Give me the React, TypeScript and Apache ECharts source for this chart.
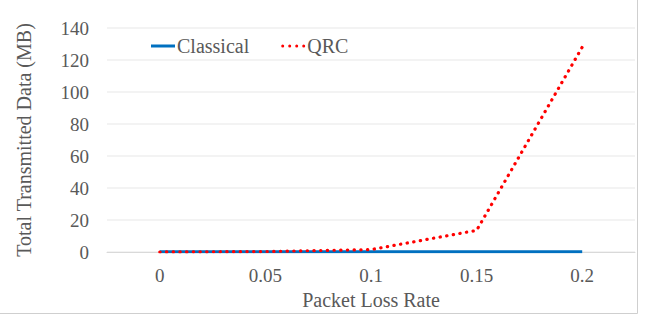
import React, { useEffect, useRef } from "react";
import * as echarts from "echarts";

const categories = ["0", "0.05", "0.1", "0.15", "0.2"];
const classical = [0.1, 0.1, 0.1, 0.1, 0.1];
const qrc = [0, 0.3, 1.5, 13.5, 128];
const yMin = 0;
const yMax = 140;
const yInterval = 20;

const FONT = "Liberation Serif";
const TXT = "#595959";

const dotsIcon =
  "path://M0,1.5a1.5,1.5 0 1,0 3,0a1.5,1.5 0 1,0 -3,0Z" +
  "M7,1.5a1.5,1.5 0 1,0 3,0a1.5,1.5 0 1,0 -3,0Z" +
  "M14,1.5a1.5,1.5 0 1,0 3,0a1.5,1.5 0 1,0 -3,0Z" +
  "M21,1.5a1.5,1.5 0 1,0 3,0a1.5,1.5 0 1,0 -3,0Z";

export default function App() {
  const ref = useRef<HTMLDivElement>(null);
  useEffect(() => {
    if (!ref.current) return;
    const chart = echarts.init(ref.current, undefined, { renderer: "svg" });
    chart.setOption({
      animation: false,
      backgroundColor: "#ffffff",
      grid: { left: 107, right: 22, top: 28, bottom: 64, containLabel: false, outerBoundsMode: "none" },
      legend: {
        left: 146,
        top: 31,
        itemWidth: 24,
        itemHeight: 3,
        itemGap: 32,
        textStyle: { fontFamily: FONT, fontSize: 20, color: TXT, padding: [0, 0, 0, -3] },
        data: [
          { name: "Classical", icon: "rect" },
          { name: "QRC", icon: dotsIcon },
        ],
      },
      xAxis: {
        type: "category",
        data: categories,
        boundaryGap: true,
        name: "Packet Loss Rate",
        nameLocation: "middle",
        nameGap: 38,
        nameTextStyle: { fontFamily: FONT, fontSize: 20, color: TXT },
        axisLine: { show: true, lineStyle: { color: "#d9d9d9", width: 1 } },
        axisTick: { show: false },
        axisLabel: { fontFamily: FONT, fontSize: 19, color: TXT, margin: 14 },
      },
      yAxis: {
        type: "value",
        min: yMin,
        max: yMax,
        interval: yInterval,
        name: "Total Transmitted Data (MB)",
        nameLocation: "middle",
        nameGap: 73,
        nameTextStyle: { fontFamily: FONT, fontSize: 20, color: TXT },
        axisLine: { show: false },
        axisTick: { show: false },
        axisLabel: { fontFamily: FONT, fontSize: 19, color: TXT, margin: 18 },
        splitLine: { lineStyle: { color: "#efefef", width: 1.5 } },
      },
      series: [
        {
          name: "Classical",
          type: "line",
          data: classical,
          symbol: "none",
          color: "#0070C0",
          lineStyle: { color: "#0070C0", width: 3 },
          z: 2,
        },
        {
          name: "QRC",
          type: "line",
          data: qrc,
          symbol: "none",
          color: "#FF0000",
          lineStyle: { color: "#FF0000", width: 3.2, type: [0.3, 6.4], cap: "round" },
          z: 3,
        },
      ],
      graphic: [
        { type: "line", shape: { x1: 637.5, y1: 0, x2: 637.5, y2: 313.5 }, style: { stroke: "#cfcfcf", lineWidth: 1 }, silent: true },
        { type: "line", shape: { x1: 0, y1: 313.5, x2: 637.5, y2: 313.5 }, style: { stroke: "#cfcfcf", lineWidth: 1 }, silent: true },
      ],
    });
    return () => chart.dispose();
  }, []);
  return <div ref={ref} style={{ position: "fixed", left: 0, top: 0, width: 657, height: 316 }} />;
}
